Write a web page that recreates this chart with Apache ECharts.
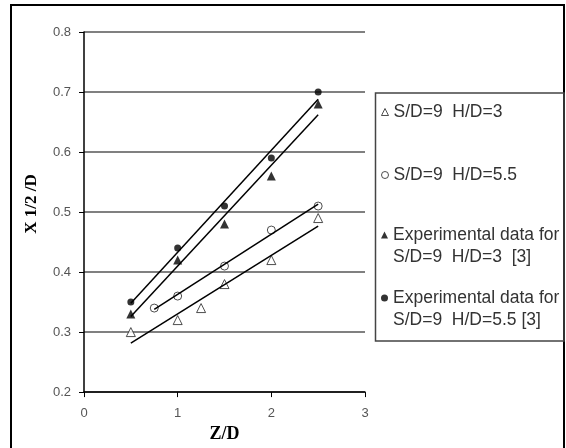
<!DOCTYPE html>
<html><head><meta charset="utf-8">
<script src="https://cdn.jsdelivr.net/npm/echarts@6/dist/echarts.min.js"></script>
<style>html,body{margin:0;padding:0;background:#fff}#c{width:566px;height:448px}</style>
</head><body><div id="c"></div>
<script>
const seriesNames = [
  'S/D=9  H/D=3',
  'S/D=9  H/D=5.5',
  'Experimental data for\nS/D=9  H/D=3  [3]',
  'Experimental data for\nS/D=9  H/D=5.5 [3]'
];
const xOpenTri = [0.5, 1, 1.25, 1.5, 2, 2.5];
const yOpenTri = [0.30, 0.32, 0.34, 0.38, 0.42, 0.49];
const xOpenCirc = [0.75, 1, 1.5, 2, 2.5];
const yOpenCirc = [0.34, 0.36, 0.41, 0.47, 0.51];
const xFillTri = [0.5, 1, 1.5, 2, 2.5];
const yFillTri = [0.33, 0.42, 0.48, 0.56, 0.68];
const xFillCirc = [0.5, 1, 1.5, 2, 2.5];
const yFillCirc = [0.35, 0.44, 0.51, 0.59, 0.70];
const xAxisTitle = 'Z/D';
const yAxisTitle = 'X 1/2 /D';

function pairs(xs, ys) { return xs.map((x, i) => [x, ys[i]]); }
function trend(xs, ys) {
  const n = xs.length;
  const mx = xs.reduce((a, b) => a + b, 0) / n;
  const my = ys.reduce((a, b) => a + b, 0) / n;
  let sxy = 0, sxx = 0;
  for (let i = 0; i < n; i++) { sxy += (xs[i] - mx) * (ys[i] - my); sxx += (xs[i] - mx) * (xs[i] - mx); }
  const b = sxy / sxx, a = my - b * mx;
  const x0 = Math.min(...xs), x1 = Math.max(...xs);
  return [[x0, a + b * x0], [x1, a + b * x1]];
}

const styles = [
  { symbol: 'triangle', size: 9, item: { color: '#fff', borderColor: '#222', borderWidth: 1 } },
  { symbol: 'circle', size: 8, item: { color: '#fff', borderColor: '#222', borderWidth: 1 } },
  { symbol: 'triangle', size: 9, item: { color: '#000', borderColor: '#000', borderWidth: 0 } },
  { symbol: 'circle', size: 7, item: { color: '#000', borderColor: '#000', borderWidth: 0 } }
];
const dataSets = [[xOpenTri, yOpenTri], [xOpenCirc, yOpenCirc], [xFillTri, yFillTri], [xFillCirc, yFillCirc]];

const series = [];
dataSets.forEach((d, i) => {
  series.push({
    name: seriesNames[i], type: 'scatter', symbol: styles[i].symbol, symbolSize: styles[i].size,
    itemStyle: styles[i].item, data: pairs(d[0], d[1]), z: 3,
    emphasis: { disabled: true }
  });
});
dataSets.forEach((d, i) => {
  series.push({
    name: 'trend' + i, type: 'line', showSymbol: false, symbol: 'none', data: trend(d[0], d[1]),
    lineStyle: { color: '#000', width: 1.5 }, z: 4, emphasis: { disabled: true }
  });
});

const LH = 22;
const legendTops = [101, 164, 202, 265];
const legends = seriesNames.map((n, i) => {
  const two = n.indexOf('\n') >= 0;
  return {
    orient: 'vertical', left: 381, top: legendTops[i], padding: 0,
    itemWidth: 7, itemHeight: 7, selectedMode: false,
    formatter: two ? (nm => '\n' + nm) : '{name}',
    data: [{ name: n, icon: styles[i].symbol, itemStyle: styles[i].item,
      textStyle: { fontFamily: 'Liberation Sans, Arial, sans-serif', fontSize: 17.5, color: '#333', lineHeight: LH } }]
  };
});

const chart = echarts.init(document.getElementById('c'), null, { renderer: 'canvas' });
chart.setOption({
  animation: false,
  backgroundColor: '#fff',
  grid: { left: 84, right: 201, top: 32, bottom: 44, containLabel: false },
  xAxis: {
    type: 'value', min: 0, max: 3, interval: 1,
    name: xAxisTitle, nameLocation: 'middle', nameGap: 30,
    nameTextStyle: { fontFamily: 'Liberation Serif, Times New Roman, serif', fontWeight: 'bold', fontSize: 18, color: '#000' },
    axisLine: { show: true, lineStyle: { color: '#000', width: 1.5 } },
    axisTick: { show: true, length: 5, lineStyle: { color: '#000' } },
    axisLabel: { margin: 15, fontFamily: 'Liberation Sans, Arial, sans-serif', fontSize: 13, color: '#555' },
    splitLine: { show: false }
  },
  yAxis: {
    type: 'value', min: 0.2, max: 0.8, interval: 0.1,
    name: yAxisTitle, nameLocation: 'middle', nameGap: 44, nameRotate: 90,
    nameTextStyle: { fontFamily: 'Liberation Serif, Times New Roman, serif', fontWeight: 'bold', fontSize: 17, color: '#000', padding: [0, 0, 0, 16] },
    axisLine: { show: true, lineStyle: { color: '#000', width: 1.5 } },
    axisTick: { show: true, length: 5, lineStyle: { color: '#000' } },
    axisLabel: { margin: 13, fontFamily: 'Liberation Sans, Arial, sans-serif', fontSize: 13, color: '#555',
      formatter: v => v.toFixed(1) },
    splitLine: { show: true, lineStyle: { color: '#808080', width: 2 } }
  },
  legend: legends,
  graphic: [
    { type: 'rect', shape: { x: 11, y: 5, width: 553, height: 460 }, style: { fill: 'none', stroke: '#000', lineWidth: 2 }, silent: true },
    { type: 'rect', shape: { x: 375.5, y: 93, width: 188.5, height: 248 }, style: { fill: 'none', stroke: '#444', lineWidth: 1.5 }, silent: true }
  ],
  series: series
});
</script>
</body></html>
